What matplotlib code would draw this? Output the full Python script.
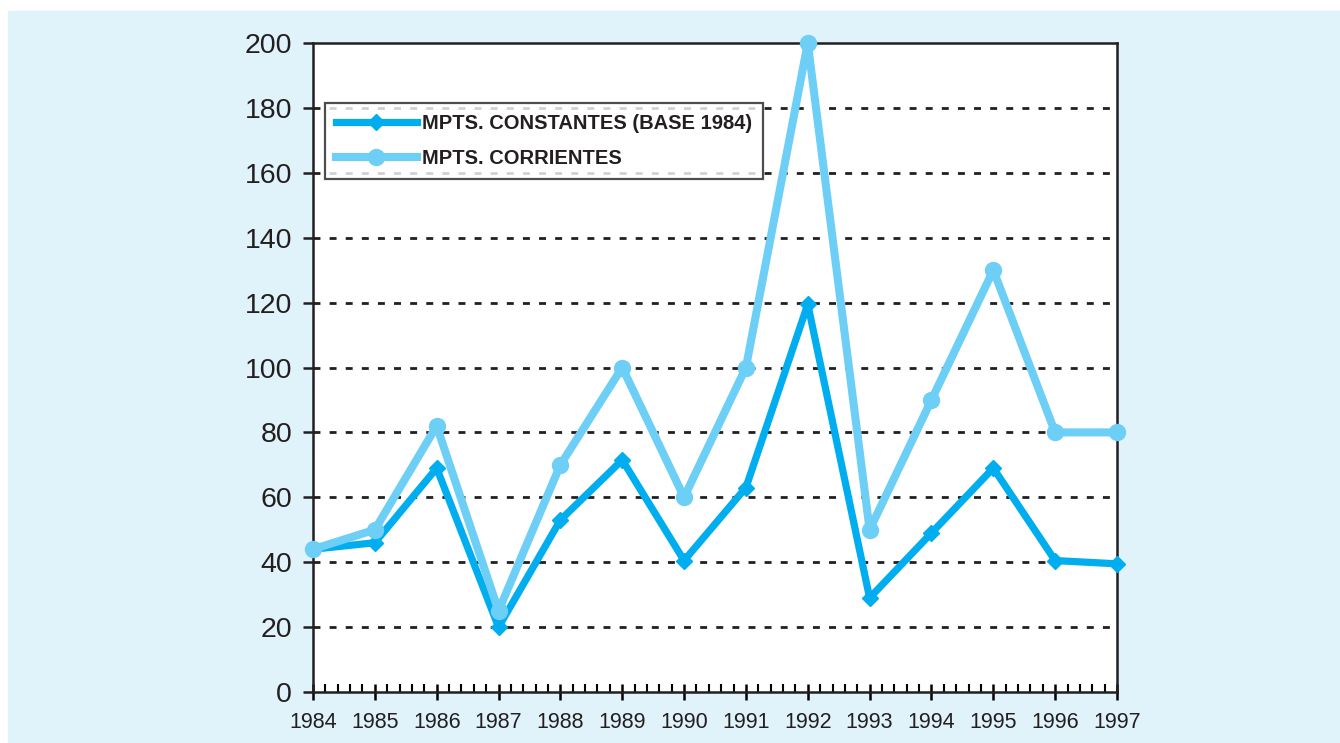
import matplotlib.pyplot as plt
import matplotlib.patches as mpatches
from matplotlib.ticker import MultipleLocator

plt.rcParams['font.family'] = ['Liberation Sans', 'DejaVu Sans']

years = [1984, 1985, 1986, 1987, 1988, 1989, 1990, 1991, 1992, 1993, 1994, 1995, 1996, 1997]
constantes = [44, 46, 69, 20, 53, 71.5, 40.5, 63, 119.5, 29, 49, 69, 40.5, 39.5]
corrientes = [44, 50, 82, 25, 70, 100, 60, 100, 200, 50, 90, 130, 80, 80]

label_const = "MPTS. CONSTANTES (BASE 1984)"
label_corr = "MPTS. CORRIENTES"

dark = "#00AEEF"
light = "#6DCFF6"
bg = "#E0F3FA"
ink = "#231F20"

fig = plt.figure(figsize=(13.4, 7.43), dpi=100)
fig.patch.set_facecolor("white")
# light blue panel behind the chart
fig.patches.append(mpatches.Rectangle((8 / 1340, 0), 1, 1 - 11 / 743,
                                      transform=fig.transFigure, color=bg, zorder=-10))

ax = fig.add_axes([313 / 1340, 51 / 743, 804 / 1340, 649 / 743])
ax.set_facecolor("white")

ax.plot(years, constantes, color=dark, lw=5.2, marker="D", markersize=8,
        label=label_const, clip_on=False, zorder=3)
ax.plot(years, corrientes, color=light, lw=5.8, marker="o", markersize=11.5,
        label=label_corr, clip_on=False, zorder=4)

ax.set_xlim(1984, 1997)
ax.set_ylim(0, 200)
ax.set_xticks(years)
ax.set_xticklabels([str(y) for y in years], fontsize=15.5, color=ink)
ax.xaxis.set_minor_locator(MultipleLocator(0.2))
ax.yaxis.set_major_locator(MultipleLocator(20))
ax.tick_params(axis="y", labelsize=20.5, colors=ink, direction="out", length=7, width=1.8, pad=8)
ax.tick_params(axis="x", which="major", direction="inout", length=11, width=1.8, pad=9)
ax.tick_params(axis="x", which="minor", direction="in", length=6, width=1.5)

for s in ax.spines.values():
    s.set_linewidth(1.8)
    s.set_color(ink)

for v in range(20, 200, 20):
    ax.axhline(v, color=ink, lw=2, ls=(0, (2.5, 3.3)), zorder=1)

leg = ax.legend(loc="upper left", bbox_to_anchor=(12 / 804, (692 - 103) / 649),
                prop={"weight": "bold", "size": 14.5},
                frameon=True, fancybox=False, borderpad=0.55, handlelength=4.0,
                labelspacing=0.8, handletextpad=0.25, borderaxespad=0)
leg.get_frame().set_edgecolor(ink)
leg.get_frame().set_linewidth(1.6)
for t in leg.get_texts():
    t.set_color(ink)

fig.savefig("out.png", dpi=100, facecolor=fig.get_facecolor())
